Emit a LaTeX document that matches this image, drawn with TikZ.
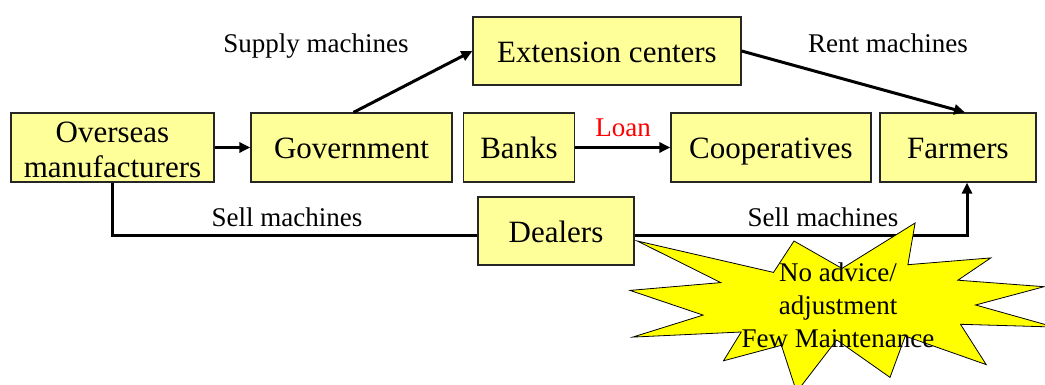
\documentclass[tikz,border=0pt]{standalone}
\usepackage{fontspec}
\setmainfont{Liberation Serif}
\usetikzlibrary{arrows.meta}
\definecolor{boxyellow}{HTML}{FFFF99}
\definecolor{burst}{HTML}{FFFF00}
\begin{document}
\begin{tikzpicture}[x=1pt,y=-1pt,
  boxbase/.style={draw=black!85, line width=1.2pt, fill=boxyellow, minimum height=69pt,
              inner sep=0pt, align=center, font=\fontsize{31}{35}\selectfont},
  box/.style={boxbase, text height=28pt, text depth=5pt},
  flow/.style={line width=3pt, -{Triangle[length=11pt,width=10pt]}},
  lbl/.style={inner sep=0pt, font=\fontsize{27}{32}\selectfont},
]
\useasboundingbox (0,0) rectangle (1045,385);

% actors
\node[boxbase, minimum width=203pt] (over) at (112.5,147.5) {};
\node[inner sep=0pt, align=center, font=\fontsize{31}{35}\selectfont] (overtext) at (112.5,149.5)
  {Overseas\\manufacturers};
\node[box, minimum width=201pt] (gov)   at (351.5,147.5) {Government};
\node[box, minimum width=268pt, minimum height=68pt] (ext) at (607,51) {Extension centers};
\node[box, minimum width=111pt] (banks) at (519,147.5) {Banks};
\node[box, minimum width=200pt] (coop)  at (771,147.5) {Cooperatives};
\node[box, minimum width=156pt] (farm)  at (958,147.5) {Farmers};
\node[box, minimum width=156pt, minimum height=68pt] (deal) at (556,231) {Dealers};

% flows between actors
\draw[flow] (over.east) -- (gov.west);
\draw[flow] ([xshift=2pt]gov.north) -- (ext.west);
\draw[flow] (ext.east) -- ([xshift=7pt]farm.north);
\draw[flow] (banks.east) -- (coop.west);
\draw[line width=3pt] (over.south) |- ([yshift=-4pt]deal.west);
\draw[flow] ([yshift=-4pt]deal.east) -| ([xshift=9pt]farm.south);

% flow labels
\node[lbl] (lsupply) at (316,46)  {Supply machines};
\node[lbl] (lrent)   at (888,43)  {Rent machines};
\node[lbl, text=red] (lloan) at (623,128) {Loan};
\node[lbl] (lsell1)  at (287,217) {Sell machines};
\node[lbl] (lsell2)  at (823,217) {Sell machines};

% explosion callout
\begin{scope}
  \clip (0,0) rectangle (1045,385);
  \draw[fill=burst, draw=black, line width=0.8pt]
    (842.0,268.4) -- (915.1,223.0) -- (907.9,264.7) -- (990.8,257.9) --
    (957.9,280.2) -- (1044.1,286.7) -- (975.6,305.0) -- (1054.0,327.0) --
    (960.5,324.3) -- (986.2,364.6) -- (905.2,336.1) -- (890.0,377.4) --
    (836.7,339.9) -- (796.6,392.0) -- (781.4,345.3) -- (723.5,360.8) --
    (741.2,332.0) -- (632.7,337.1) -- (703.1,315.1) -- (630.0,290.4) --
    (720.8,282.6) -- (637.3,241.0) -- (773.5,272.4) -- (794.0,241.0) -- cycle;
\end{scope}
\node[inner sep=0pt, align=center, font=\fontsize{27}{33}\selectfont] (note) at (838,305)
  {No advice/\\adjustment\\Few Maintenance};
\end{tikzpicture}
\end{document}
